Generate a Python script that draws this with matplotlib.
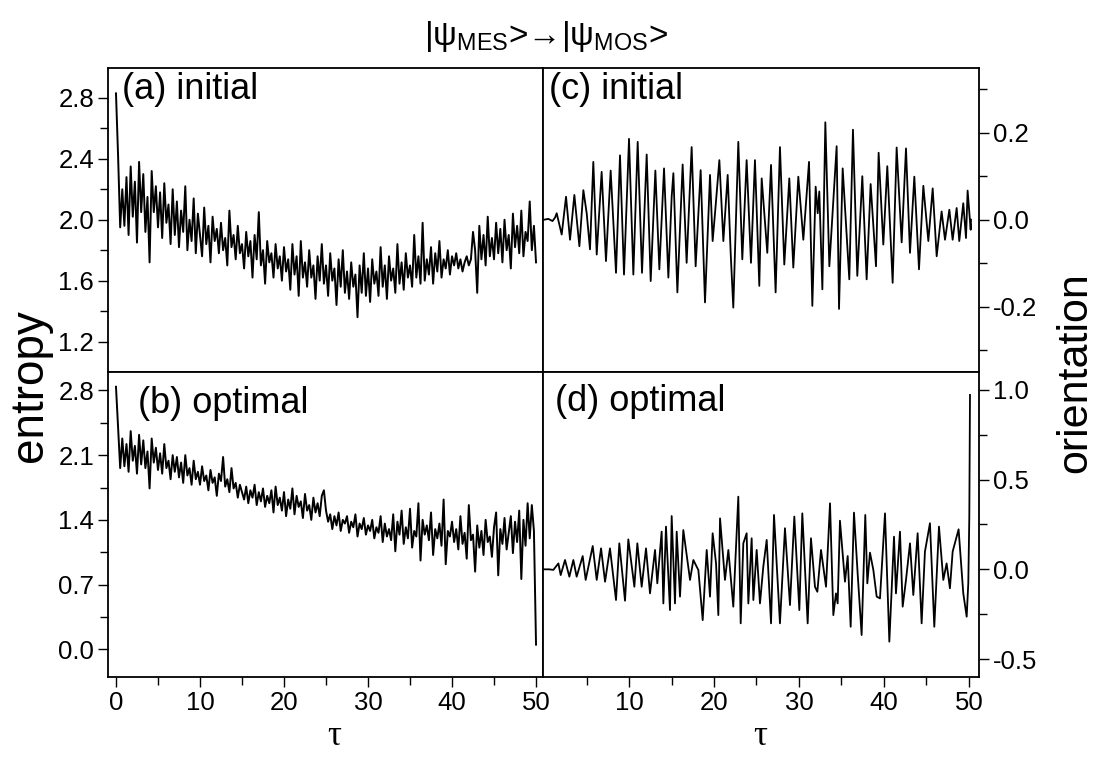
import matplotlib.pyplot as plt
import numpy as np

plt.rcParams['font.family'] = ['Liberation Sans', 'DejaVu Sans']
plt.rcParams['mathtext.fontset'] = 'custom'
plt.rcParams['mathtext.rm'] = 'Liberation Sans'
plt.rcParams['mathtext.it'] = 'Liberation Sans'
plt.rcParams['axes.unicode_minus'] = False

t_ent = np.arange(201) * 0.25

entropy_initial = [
    2.83, 2.42, 1.95, 2.20, 1.96, 2.28, 1.90, 2.35, 2.02, 2.25,
    1.85, 2.38, 2.05, 2.30, 1.92, 2.15, 1.72, 2.32, 2.05, 2.22,
    1.95, 2.18, 1.88, 2.24, 1.98, 2.10, 1.84, 2.20, 1.90, 2.12,
    1.82, 2.06, 1.92, 2.22, 1.80, 2.00, 1.86, 2.14, 1.78, 2.04,
    1.90, 1.76, 2.08, 1.84, 1.96, 1.72, 2.02, 1.86, 1.94, 1.78,
    1.98, 1.80, 1.88, 1.70, 2.06, 1.82, 1.90, 1.74, 1.96, 1.78,
    1.84, 1.68, 1.92, 1.76, 1.86, 1.62, 1.90, 1.74, 2.05, 1.70,
    1.80, 1.58, 1.86, 1.72, 1.78, 1.62, 1.84, 1.68, 1.76, 1.60,
    1.82, 1.66, 1.74, 1.54, 1.84, 1.64, 1.76, 1.50, 1.86, 1.62,
    1.72, 1.56, 1.80, 1.62, 1.70, 1.48, 1.76, 1.60, 1.84, 1.58,
    1.70, 1.50, 1.78, 1.60, 1.68, 1.44, 1.74, 1.56, 1.80, 1.52,
    1.66, 1.48, 1.72, 1.56, 1.64, 1.36, 1.70, 1.52, 1.78, 1.50,
    1.68, 1.46, 1.74, 1.58, 1.66, 1.50, 1.82, 1.56, 1.70, 1.48,
    1.76, 1.60, 1.68, 1.52, 1.84, 1.58, 1.72, 1.54, 1.78, 1.62,
    1.70, 1.56, 1.90, 1.62, 1.76, 1.58, 1.98, 1.60, 1.74, 1.64,
    1.82, 1.58, 1.78, 1.66, 1.86, 1.62, 1.74, 1.68, 1.80, 1.64,
    1.76, 1.70, 1.78, 1.68, 1.74, 1.66, 1.72, 1.76, 1.70, 1.74,
    1.92, 1.80, 1.52, 1.96, 1.74, 1.90, 1.70, 2.02, 1.76, 1.88,
    1.74, 1.98, 1.78, 1.94, 1.72, 2.00, 1.80, 1.90, 1.68, 2.04,
    1.82, 1.96, 1.78, 2.06, 1.76, 1.92, 1.86, 2.12, 1.80, 1.96,
    1.72,
]

entropy_optimal = [
    2.84, 2.40, 1.96, 2.28, 1.98, 2.22, 1.92, 2.36, 2.04, 2.20,
    1.90, 2.32, 2.00, 2.26, 1.96, 2.14, 1.74, 2.28, 2.02, 2.18,
    1.94, 2.12, 1.90, 2.22, 1.96, 2.04, 1.84, 2.10, 1.92, 2.08,
    1.86, 2.02, 1.80, 2.10, 1.88, 1.96, 1.78, 2.04, 1.84, 1.92,
    1.78, 1.98, 1.82, 1.88, 1.72, 1.94, 1.80, 1.86, 1.66, 1.90,
    1.82, 2.08, 1.76, 1.84, 1.70, 1.96, 1.74, 1.80, 1.64, 1.78,
    1.70, 1.62, 1.76, 1.58, 1.72, 1.64, 1.78, 1.56, 1.70, 1.60,
    1.74, 1.54, 1.66, 1.58, 1.72, 1.48, 1.76, 1.56, 1.64, 1.50,
    1.70, 1.44, 1.62, 1.52, 1.74, 1.46, 1.66, 1.54, 1.60, 1.42,
    1.68, 1.50, 1.56, 1.40, 1.64, 1.48, 1.58, 1.44, 1.66, 1.72,
    1.50, 1.38, 1.46, 1.30, 1.44, 1.34, 1.48, 1.28, 1.40, 1.36,
    1.44, 1.26, 1.38, 1.32, 1.46, 1.22, 1.36, 1.30, 1.42, 1.24,
    1.34, 1.28, 1.40, 1.20, 1.32, 1.26, 1.44, 1.16, 1.36, 1.22,
    1.30, 1.18, 1.46, 1.06, 1.38, 1.24, 1.50, 1.14, 1.32, 1.20,
    1.52, 1.10, 1.28, 1.22, 1.58, 0.96, 1.40, 1.24, 1.34, 1.18,
    1.48, 1.02, 1.30, 1.20, 1.36, 1.12, 1.62, 0.92, 1.28, 1.22,
    1.38, 1.16, 1.30, 1.08, 1.44, 1.14, 1.26, 0.98, 1.56, 1.18,
    1.24, 0.84, 1.34, 1.10, 1.28, 1.02, 1.40, 1.16, 1.22, 1.00,
    1.32, 1.48, 0.80, 1.30, 1.14, 1.42, 1.08, 1.26, 1.44, 1.04,
    1.38, 1.16, 1.50, 0.76, 1.40, 1.12, 1.58, 1.20, 1.56, 1.28,
    0.05,
]

# orientation curves: turning points
t_orient_initial = [
    0, 0.5, 1.0, 1.3, 1.49, 2.08, 2.59, 3.06, 3.57, 4.16,
    4.63, 5.02, 5.41, 5.80, 6.20, 6.78, 7.29, 7.84, 8.47, 8.94,
    9.41, 10.0, 10.51, 11.02, 11.53, 12.08, 12.55, 13.10, 13.57, 14.12,
    14.63, 15.02, 15.22, 15.69, 16.31, 16.78, 17.37, 17.84, 18.43, 18.94,
    19.53, 19.84, 20.12, 20.63, 21.10, 21.61, 21.96, 22.27, 22.86, 23.33,
    23.84, 24.35, 24.82, 25.33, 25.61, 26.27, 26.71, 27.25, 27.76, 28.27,
    28.86, 29.33, 29.92, 30.51, 31.18, 31.57, 31.96, 32.2, 32.39, 32.75,
    33.10, 33.57, 34.43, 34.71, 35.14, 35.92, 36.35, 36.86, 37.45, 37.96,
    38.43, 39.06, 39.37, 39.92, 40.39, 41.02, 41.49, 42.08, 42.59, 43.06,
    43.57, 44.12, 44.63, 45.22, 45.73, 46.20, 46.78, 47.18, 47.69, 48.08,
    48.55, 48.86, 49.33, 49.65, 49.84, 50.2, 50.24,
]
orient_initial = [
    0.0, 0.002, -0.003, 0.005, 0.015, -0.034, 0.053, -0.046, 0.057, -0.061,
    0.068, 0.015, -0.068, 0.133, -0.080, 0.110, -0.095, 0.113, -0.122, 0.148,
    -0.126, 0.186, -0.126, 0.179, -0.122, 0.150, -0.141, 0.113, -0.114, 0.118,
    -0.133, 0.053, 0.107, -0.167, 0.127, -0.099, 0.167, -0.107, 0.114, -0.190,
    0.103, -0.049, 0.015, 0.137, -0.049, 0.103, -0.076, -0.202, 0.179, -0.091,
    0.137, -0.099, 0.137, -0.152, 0.095, -0.076, 0.126, -0.167, 0.167, -0.103,
    0.095, -0.110, 0.099, -0.046, 0.133, -0.198, 0.076, 0.015, 0.065, -0.160,
    0.224, -0.107, 0.169, -0.205, 0.118, -0.137, 0.207, -0.129, 0.100, -0.137,
    0.082, -0.107, 0.154, -0.057, 0.123, -0.145, 0.166, -0.052, 0.164, -0.076,
    0.099, -0.114, 0.078, -0.049, 0.072, -0.084, 0.019, -0.046, 0.023, -0.046,
    0.027, -0.049, 0.038, -0.042, 0.067, -0.023, 0.0,
]

t_orient_optimal = [
    0, 0.6, 1.1, 1.69, 1.96, 2.47, 2.98, 3.45, 3.84, 4.55,
    4.90, 5.73, 6.20, 6.71, 7.18, 7.76, 8.47, 8.86, 9.53, 9.92,
    10.63, 10.98, 11.49, 12.0, 12.47, 13.06, 13.33, 13.84, 14.04, 14.35,
    14.82, 15.02, 15.41, 15.61, 16.0, 16.39, 17.18, 17.57, 18.16, 18.67,
    19.14, 19.53, 19.84, 20.24, 20.51, 20.71, 21.29, 21.69, 22.27, 22.86,
    23.14, 23.45, 23.84, 24.04, 24.43, 24.63, 25.02, 25.41, 25.8, 26.2,
    26.71, 27.06, 27.76, 28.35, 28.94, 29.45, 30.04, 30.39, 31.02, 31.41,
    31.88, 32.16, 32.59, 33.18, 33.65, 34.04, 34.35, 34.55, 34.82, 35.41,
    35.73, 36.08, 36.47, 36.9, 37.37, 37.8, 38.04, 38.35, 38.75, 39.14,
    39.53, 40.12, 40.63, 41.18, 41.41, 41.88, 42.2, 42.59, 43.06, 43.45,
    43.96, 44.43, 44.82, 45.41, 45.92, 46.47, 46.98, 47.37, 47.76, 48.08,
    48.78, 49.33, 49.73, 49.92, 50.04, 50.12,
]
orient_optimal = [
    0.0, 0.0, -0.003, 0.033, -0.032, 0.052, -0.041, 0.052, -0.041, 0.074,
    -0.059, 0.130, -0.059, 0.117, -0.069, 0.117, -0.171, 0.145, -0.175, 0.167,
    -0.097, 0.145, -0.097, 0.117, -0.134, 0.108, -0.078, 0.210, -0.190, 0.238,
    -0.227, 0.297, -0.190, 0.210, -0.152, 0.219, -0.059, 0.052, -0.004, -0.283,
    0.108, -0.152, 0.201, 0.033, -0.255, 0.284, -0.059, 0.108, -0.208, 0.405,
    -0.301, 0.145, 0.201, -0.190, 0.173, -0.171, 0.108, -0.190, 0.015, 0.164,
    -0.301, 0.303, -0.301, 0.229, -0.199, 0.294, -0.227, 0.312, -0.301, 0.173,
    -0.097, -0.125, 0.108, -0.097, 0.368, -0.255, -0.134, -0.190, 0.271, -0.069,
    0.074, -0.320, 0.316, -0.022, -0.366, 0.303, -0.078, 0.093, -0.004, -0.152,
    -0.162, 0.312, -0.403, 0.182, -0.134, 0.210, -0.208, -0.059, 0.145, -0.143,
    0.201, -0.301, 0.099, 0.257, -0.320, 0.238, -0.059, 0.033, -0.106, 0.099,
    0.223, -0.134, -0.264, -0.078, 0.294, 0.972,
]

panel_labels = ['(a) initial', '(b) optimal', '(c) initial', '(d) optimal']

fig = plt.figure(figsize=(10.93, 7.61), dpi=100)
xl, wl = 108 / 1093, 435 / 1093
xr, wr = 543 / 1093, 436 / 1093
ax_a = fig.add_axes([xl, 0.5112, wl, 0.4001])
ax_b = fig.add_axes([xl, 0.1104, wl, 0.4008])
ax_c = fig.add_axes([xr, 0.5112, wr, 0.4001])
ax_d = fig.add_axes([xr, 0.1104, wr, 0.4008])

ax_a.plot(t_ent, entropy_initial, color='black', lw=1.4)
ax_b.plot(t_ent, entropy_optimal, color='black', lw=1.4)
ax_c.plot(t_orient_initial, orient_initial, color='black', lw=1.3)
ax_d.plot(t_orient_optimal, orient_optimal, color='black', lw=1.3)

for ax in (ax_a, ax_b):
    ax.set_xlim(-0.95, 50.83)
for ax in (ax_c, ax_d):
    ax.set_xlim(-0.12, 51.18)
ax_a.set_ylim(1.0, 3.0)
ax_b.set_ylim(-0.3, 3.0)
ax_c.set_ylim(-0.35, 0.35)
ax_d.set_ylim(-0.6, 1.1)

ax_a.set_yticks([1.2, 1.6, 2.0, 2.4, 2.8])
ax_a.set_yticks([1.4, 1.8, 2.2, 2.6], minor=True)
ax_b.set_yticks([0.0, 0.7, 1.4, 2.1, 2.8])
ax_b.set_yticks([0.35, 1.05, 1.75, 2.45], minor=True)
ax_c.set_yticks([-0.2, 0.0, 0.2])
ax_c.set_yticks([-0.3, -0.1, 0.1, 0.3], minor=True)
ax_d.set_yticks([-0.5, 0.0, 0.5, 1.0])
ax_d.set_yticks([-0.25, 0.25, 0.75], minor=True)

ax_b.set_xticks([0, 10, 20, 30, 40, 50])
ax_b.set_xticks([5, 15, 25, 35, 45], minor=True)
ax_d.set_xticks([10, 20, 30, 40, 50])
ax_d.set_xticks([5, 15, 25, 35, 45], minor=True)

for ax in (ax_a, ax_b, ax_c, ax_d):
    for s in ax.spines.values():
        s.set_linewidth(1.3)
    ax.tick_params(which='both', direction='out', width=1.0, labelsize=18.5,
                   top=False, pad=3)
    ax.tick_params(which='major', length=7)
    ax.tick_params(which='minor', length=6)

for ax in (ax_a, ax_c):
    ax.tick_params(axis='x', which='both', bottom=False, labelbottom=False)
for ax in (ax_c, ax_d):
    ax.tick_params(axis='y', which='both', left=False, labelleft=False,
                   right=True, labelright=True)

label_pos = [(0.032, 0.985), (0.068, 0.955), (0.014, 0.985), (0.028, 0.96)]
for ax, lab, (px, py) in zip((ax_a, ax_b, ax_c, ax_d), panel_labels, label_pos):
    ax.text(px, py, lab, transform=ax.transAxes, fontsize=26,
            ha='left', va='top')

fig.text(0.4995, 0.952, r'|ψ$_{\mathrm{MES}}$>→|ψ$_{\mathrm{MOS}}$>',
         fontsize=24, ha='center', va='center')
fig.text(0.027, 0.494, 'entropy', rotation=90, fontsize=33,
         ha='center', va='center')
fig.text(0.9835, 0.51, 'orientation', rotation=90, fontsize=31,
         ha='center', va='center')
fig.text(0.306, 0.032, 'τ', fontsize=25, family='Liberation Serif',
         ha='center', va='center')
fig.text(0.696, 0.032, 'τ', fontsize=25, family='Liberation Serif',
         ha='center', va='center')

fig.savefig('out.png', dpi=100)
